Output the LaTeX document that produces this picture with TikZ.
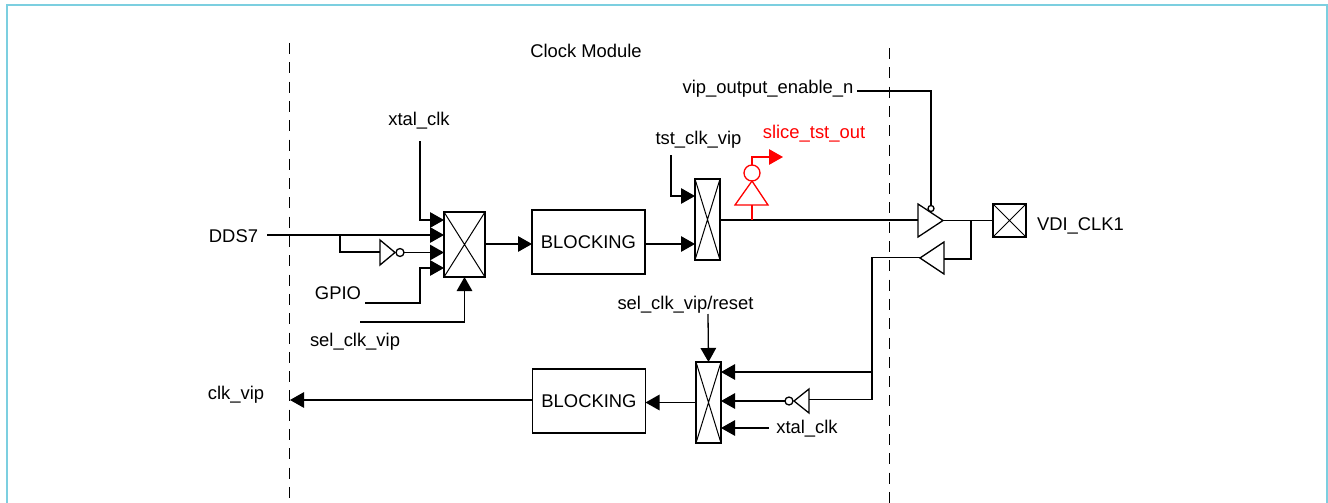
\documentclass[tikz,border=0pt]{standalone}
\usepackage{fontspec}
\setmainfont{Liberation Sans}
\usetikzlibrary{arrows.meta}
\definecolor{framecol}{HTML}{7CCFE0}
\tikzset{
    crossbox/.style={draw, outer sep=0pt, inner sep=0pt, minimum width=#1,
        path picture={\draw[line width=1pt] (path picture bounding box.north west) -- (path picture bounding box.south east)
            (path picture bounding box.north east) -- (path picture bounding box.south west);}},
    bubble/.style={draw, circle, inner sep=0pt, outer sep=0pt, minimum size=8pt},
    blockbox/.style={draw, outer sep=0pt, minimum width=113pt, minimum height=64pt},
    boundary/.style={line width=1.1pt, dash pattern=on 11pt off 8.3pt},
    signame/.style={anchor=base, inner sep=0pt},
}
\begin{document}
\begin{tikzpicture}[x=1pt, y=-1pt, line width=1.3pt, >={Triangle[length=14pt,width=15.5pt]},
        every node/.style={font=\fontsize{18.4}{22}\selectfont}]
        \useasboundingbox (0,0) rectangle (1328,503);
        \draw[framecol, line width=2pt] (7,503) -- (7,5) -- (1327,5) -- (1327,503);

        \coordinate (topL) at (289.5,43);
        \coordinate (botL) at (289.5,503);
        \coordinate (topR) at (889.5,48);
        \coordinate (botR) at (889.5,503);
        \draw[boundary] (topL) -- (botL);
        \draw[boundary] (topR) -- (botR);

        \node[crossbox=41pt, minimum height=65pt] (mux1) at (464.5,244.5) {};
        \node[crossbox=25pt, minimum height=81pt] (mux2) at (707.5,219.5) {};
        \node[crossbox=25pt, minimum height=81pt] (mux3) at (708.5,402.5) {};
        \node[crossbox=33pt, minimum height=33pt] (pad) at (1009.5,220.5) {};
        \node[blockbox] (block1) at (588.5,242) {\raisebox{-3pt}{BLOCKING}};
        \node[blockbox] (block2) at (589,401) {\raisebox{-2pt}{BLOCKING}};

        \node[signame] (title) at (586,58) {Clock Module};
        \node[signame] (dds) at (233.5,242.5) {DDS7};
        \node[signame] (xtalA) at (419,125) {xtal\_clk};
        \node[signame] (gpio) at (338,299) {GPIO};
        \node[signame] (selA) at (355,346) {sel\_clk\_vip};
        \node[signame] (tst) at (698.5,144) {tst\_clk\_vip};
        \node[signame, text=red] (slice) at (814,138) {slice\_tst\_out};
        \node[signame] (enable) at (768,93) {vip\_output\_enable\_n};
        \node[signame] (vdi) at (1080.5,230) {VDI\_CLK1};
        \node[signame] (selB) at (685.5,309) {sel\_clk\_vip/reset};
        \node[signame] (xtalB) at (807,433) {xtal\_clk};
        \node[signame] (clkvip) at (236,399) {clk\_vip};

        \draw (380,240) -- (380,265) -- (395,252.5) -- cycle;
        \draw (918,204) -- (918,237) -- (943,220.5) -- cycle;
        \draw (944,242) -- (944,274) -- (920,258) -- cycle;
        \draw (809,389) -- (809,413) -- (794,401) -- cycle;
        \draw[red] (735,205) -- (768,205) -- (752,181) -- cycle;
        \node[bubble] (bub1) at (400,252.5) {};
        \node[bubble, minimum size=6pt] (bub2) at (931,208.5) {};
        \node[bubble] (bub3) at (789,401) {};
        \node[bubble, draw=red, minimum size=16pt] (bub4) at (752,173) {};

        % inputs of the first selector
        \coordinate (xtalAstart) at (420,141);
        \coordinate (m1a) at (444,220);
        \coordinate (ddsstart) at (267,235);
        \coordinate (m1b) at (444,235);
        \coordinate (tapA) at (340,235);
        \coordinate (inv1in) at (380,252);
        \coordinate (m1c) at (444,252.5);
        \coordinate (gpiostart) at (365,303);
        \coordinate (gpiobend) at (420,303);
        \coordinate (m1d) at (444,268);
        \coordinate (selAstart) at (360,322);
        \draw[->] (xtalAstart) |- (m1a);
        \draw[->] (ddsstart) -- (m1b);
        \draw (tapA) |- (inv1in);
        \draw[->] (bub1.east) -- (m1c);
        \draw[->] (gpiostart) -- (gpiobend) |- (m1d);
        \draw[->] (selAstart) -| (mux1.south);

        \coordinate (m1out) at (485,244);
        \coordinate (m2a) at (695,196);
        \coordinate (tststart) at (671,155);
        \coordinate (m2b) at (695,244);
        \draw[->] (m1out) -- (block1.west |- m1out);
        \draw[->] (block1.east |- m2b) -- (m2b);
        \draw[->] (tststart) |- (m2a);

        % output and the pad
        \coordinate (m2out) at (720,220);
        \coordinate (drvin) at (918,220);
        \coordinate (drvout) at (943,220.5);
        \coordinate (tapB) at (971,220.5);
        \coordinate (rcvin) at (944,259);
        \coordinate (enstart) at (857,91);
        \draw (m2out) -- (drvin);
        \draw (drvout) -- (pad.west);
        \draw (enstart) -| (bub2.north);
        \draw (tapB) |- (rcvin);

        \coordinate (probefoot) at (752,220);
        \coordinate (probebase) at (752,205);
        \coordinate (probeout) at (783,157);
        \draw[red] (probefoot) -- (probebase);
        \draw[red, ->] (bub4.north) |- (probeout);

        % return path
        \coordinate (rcvout) at (920,257.5);
        \coordinate (corner) at (872,257.5);
        \coordinate (bend) at (872,399.5);
        \coordinate (inv2in) at (809,399.5);
        \coordinate (m3a) at (721,372);
        \coordinate (m3b) at (721,401);
        \coordinate (m3c) at (721,428);
        \coordinate (xtalBstart) at (769,428);
        \coordinate (selBstart) at (708,314);
        \coordinate (clkend) at (290,400);
        \draw (rcvout) -- (corner) -- (bend) -- (inv2in);
        \draw[->] (corner |- m3a) -- (m3a);
        \draw[->] (bub3.west) -- (m3b);
        \draw[->] (xtalBstart) -- (m3c);
        \draw[->] (selBstart) -- (mux3.north);
        \draw[->] (mux3.west) -- (block2.east |- mux3.west);
        \draw[->] (block2.west |- clkend) -- (clkend);
\end{tikzpicture}
\end{document}
